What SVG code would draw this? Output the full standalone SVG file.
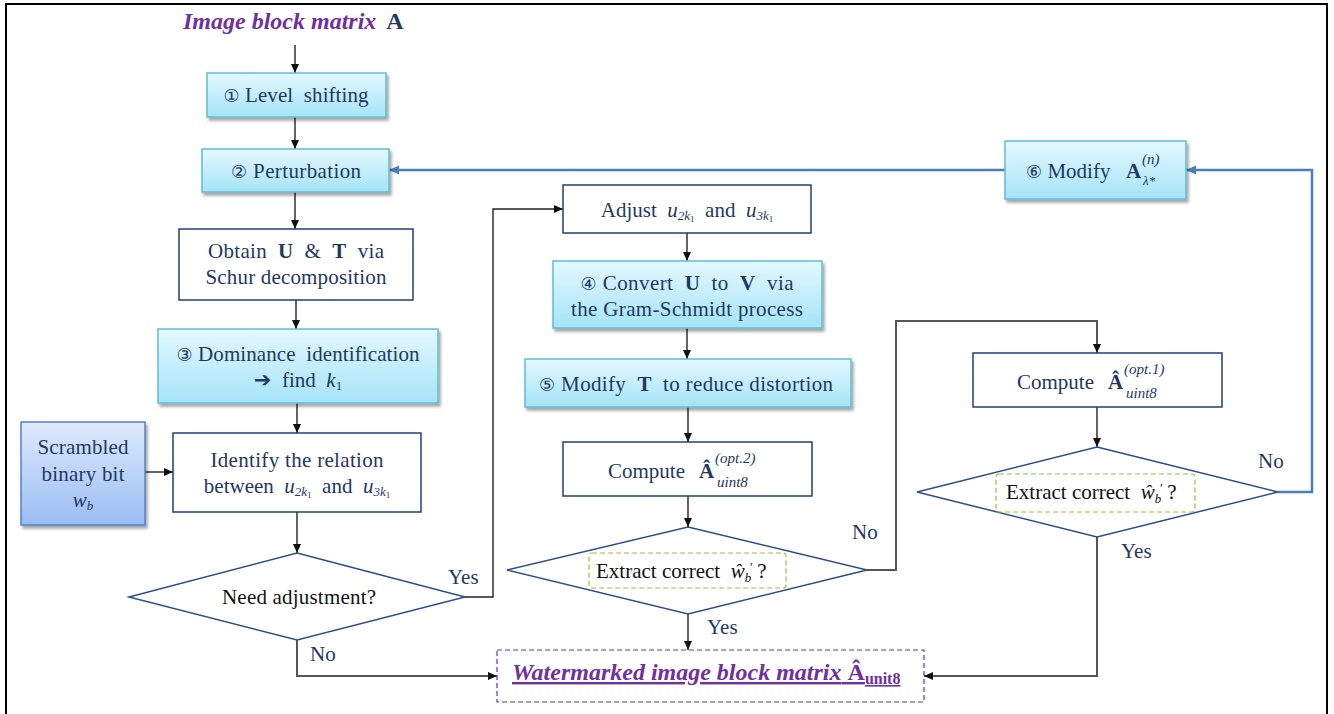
<svg xmlns="http://www.w3.org/2000/svg" width="1334" height="714" viewBox="0 0 1334 714">
<defs>
<linearGradient id="gBlue" x1="0" y1="0" x2="0" y2="1"><stop offset="0" stop-color="#e4f8fe"/><stop offset="1" stop-color="#a4e4f7"/></linearGradient>
<linearGradient id="gScr" x1="0" y1="0" x2="0" y2="1"><stop offset="0" stop-color="#dfeafc"/><stop offset="1" stop-color="#98bdf3"/></linearGradient>
<filter id="sh" x="-10%" y="-10%" width="125%" height="135%"><feDropShadow dx="2" dy="3" stdDeviation="1.5" flood-color="#000" flood-opacity="0.35"/></filter>
<marker id="ah" markerWidth="10" markerHeight="10" refX="9" refY="5" orient="auto" markerUnits="userSpaceOnUse"><path d="M0,1 L9,5 L0,9 Z" fill="#111"/></marker>
<marker id="ahb" markerWidth="12" markerHeight="12" refX="10" refY="6" orient="auto" markerUnits="userSpaceOnUse"><path d="M0,1.5 L10,6 L0,10.5 Z" fill="#4a7ebb"/></marker>
<style>
.t{font-family:"Liberation Serif","Times New Roman",serif;font-size:21px;fill:#1f3864}
.k{fill:#111}
.m{font-style:italic}
.b{font-weight:bold}
.c{font-family:"DejaVu Sans",sans-serif;font-size:18px}
.sub{font-size:13px}
.ss{font-size:15px}
.lb{fill:url(#gBlue);stroke:#62bcd4;stroke-width:1.5;filter:url(#sh)}
.wb{fill:#fff;stroke:#203f7a;stroke-width:1.5}
.dm{fill:#fff;stroke:#2c4f8c;stroke-width:1.5}
.gd{fill:none;stroke:#8cc63f;stroke-width:1.2;stroke-dasharray:5,3}
.ln{fill:none;stroke:#222;stroke-width:1.4}
.gl{fill:none;stroke:#555;stroke-width:2}
.bl{fill:none;stroke:#4a7ebb;stroke-width:2.5}
</style>
</defs>
<rect x="6" y="4" width="1321" height="730" fill="none" stroke="#000" stroke-width="2"/>

<g id="connectors">
<path class="ln" d="M295,45 V73" marker-end="url(#ah)"/>
<path class="ln" d="M295,117 V149" marker-end="url(#ah)"/>
<path class="ln" d="M295,192 V229" marker-end="url(#ah)"/>
<path class="ln" d="M296,300 V329" marker-end="url(#ah)"/>
<path class="ln" d="M297,403 V433" marker-end="url(#ah)"/>
<path class="ln" d="M145,472 H173" marker-end="url(#ah)"/>
<path class="ln" d="M297,512 V553" marker-end="url(#ah)"/>
<path class="ln" d="M465,597 H493 V209 H563" marker-end="url(#ah)"/>
<path class="gl" d="M297,640 V676 H497" marker-end="url(#ah)"/>
<path class="ln" d="M687,233 V261" marker-end="url(#ah)"/>
<path class="ln" d="M687,328 V359" marker-end="url(#ah)"/>
<path class="ln" d="M688,407 V442" marker-end="url(#ah)"/>
<path class="ln" d="M688,496 V527" marker-end="url(#ah)"/>
<path class="ln" d="M688,614 V650" marker-end="url(#ah)"/>
<path class="gl" d="M867,570 H896 V321 H1097 V353" marker-end="url(#ah)"/>
<path class="ln" d="M1097,407 V447" marker-end="url(#ah)"/>
<path class="gl" d="M1097,537 V676 H924" marker-end="url(#ah)"/>
<path class="bl" d="M1278,492 H1312 V170 H1186" marker-end="url(#ahb)"/>
<path class="bl" d="M1005,170 H389" marker-end="url(#ahb)"/>
<text class="t" x="448" y="584">Yes</text>
<text class="t" x="310" y="661">No</text>
<text class="t" x="852" y="539">No</text>
<text class="t" x="707" y="634">Yes</text>
<text class="t" x="1258" y="468">No</text>
<text class="t" x="1121" y="558">Yes</text>
</g>

<g id="title">
<text class="t" x="183" y="29" style="font-size:24px"><tspan class="m b" fill="#7030a0">Image block matrix</tspan><tspan class="b" dx="10">A</tspan></text>
</g>

<g id="level">
<rect class="lb" x="207" y="73" width="179" height="44"/>
<text class="t" x="296" y="102" text-anchor="middle" textLength="145" xml:space="preserve"><tspan class="c">①</tspan> Level  shifting</text>
</g>

<g id="perturbation">
<rect class="lb" x="202" y="149" width="187" height="43"/>
<text class="t" x="296" y="178" text-anchor="middle" textLength="130"><tspan class="c">②</tspan> Perturbation</text>
</g>

<g id="obtain">
<rect class="wb" x="179" y="229" width="234" height="71"/>
<text class="t" x="296" y="258" text-anchor="middle" textLength="176" xml:space="preserve">Obtain  <tspan class="b">U</tspan>  &amp;  <tspan class="b">T</tspan>  via</text>
<text class="t" x="296" y="284" text-anchor="middle" textLength="181">Schur decomposition</text>
</g>

<g id="dominance">
<rect class="lb" x="158" y="329" width="280" height="74"/>
<text class="t" x="298" y="361" text-anchor="middle" textLength="243" xml:space="preserve"><tspan class="c">③</tspan> Dominance  identification</text>
<text class="t" x="298" y="387" text-anchor="middle" xml:space="preserve"><tspan class="b" font-family="DejaVu Sans">➔</tspan>  find  <tspan class="m">k</tspan><tspan class="sub" dy="3">1</tspan></text>
</g>

<g id="scrambled">
<rect x="21" y="422" width="124" height="103" fill="url(#gScr)" stroke="#4f82c8" stroke-width="1.5" filter="url(#sh)"/>
<text class="t" x="83" y="454" text-anchor="middle" textLength="91">Scrambled</text>
<text class="t" x="83" y="481" text-anchor="middle" textLength="83">binary bit</text>
<text class="t" x="83" y="507" text-anchor="middle"><tspan class="m">w</tspan><tspan class="sub m" dy="3">b</tspan></text>
</g>

<g id="identify">
<rect class="wb" x="173" y="433" width="248" height="79"/>
<text class="t" x="297" y="467" text-anchor="middle" textLength="173">Identify the relation</text>
<text class="t" x="297" y="493" text-anchor="middle" xml:space="preserve">between  <tspan class="m">u</tspan><tspan class="sub m" dy="3">2k</tspan><tspan font-size="9" dy="2">1</tspan><tspan dy="-5">  and  </tspan><tspan class="m">u</tspan><tspan class="sub m" dy="3">3k</tspan><tspan font-size="9" dy="2">1</tspan></text>
</g>

<g id="need">
<polygon class="dm" points="297,553 465,597 297,640 129,597"/>
<text class="t k" x="299" y="604" text-anchor="middle" textLength="154">Need adjustment?</text>
</g>

<g id="adjust">
<rect class="wb" x="563" y="185" width="248" height="48"/>
<text class="t" x="687" y="217" text-anchor="middle" xml:space="preserve">Adjust  <tspan class="m">u</tspan><tspan class="sub m" dy="3">2k</tspan><tspan font-size="9" dy="2">1</tspan><tspan dy="-5">  and  </tspan><tspan class="m">u</tspan><tspan class="sub m" dy="3">3k</tspan><tspan font-size="9" dy="2">1</tspan></text>
</g>

<g id="convert">
<rect class="lb" x="553" y="261" width="269" height="67"/>
<text class="t" x="687" y="290" text-anchor="middle" textLength="213" xml:space="preserve"><tspan class="c">④</tspan> Convert  <tspan class="b">U</tspan>  to  <tspan class="b">V</tspan>  via</text>
<text class="t" x="687" y="316" text-anchor="middle" textLength="232">the Gram-Schmidt process</text>
</g>

<g id="modifyT">
<rect class="lb" x="525" y="359" width="326" height="48"/>
<text class="t" x="686" y="391" text-anchor="middle" textLength="294" xml:space="preserve"><tspan class="c">⑤</tspan> Modify  <tspan class="b">T</tspan>  to reduce distortion</text>
</g>

<g id="compute2">
<rect class="wb" x="563" y="442" width="249" height="54"/>
<text class="t" x="608" y="478">Compute</text>
<text class="t b" x="699" y="478">Â</text>
<text class="t m ss" x="715" y="463">(opt.2)</text>
<text class="t m ss" x="717" y="487">uint8</text>
</g>

<g id="extract2">
<polygon class="dm" points="688,527 867,570 688,614 507,570"/>
<rect class="gd" x="589" y="553" width="197" height="35" rx="3"/>
<text class="t k" x="596" y="578" xml:space="preserve">Extract correct  <tspan class="m">ŵ</tspan><tspan class="sub m" dy="4">b</tspan><tspan class="sub m" dx="-2" dy="-11">′</tspan><tspan dy="7"> ?</tspan></text>
</g>

<g id="watermarked">
<rect x="497" y="650" width="427" height="52" fill="#fff" stroke="#7030a0" stroke-width="1.2" stroke-dasharray="5,3"/>
<text class="t b" x="512" y="680" style="font-size:24px;fill:#7030a0" text-decoration="underline"><tspan class="m">Watermarked image block matrix</tspan>  Â<tspan font-size="16" dy="4">unit8</tspan></text>
</g>

<g id="modifyA">
<rect class="lb" x="1005" y="141" width="181" height="58"/>
<text class="t" x="1026" y="178"><tspan class="c">⑥</tspan> Modify</text>
<text class="t b" x="1126" y="178">A</text>
<text class="t m ss" x="1142" y="164">(n)</text>
<text class="t m sub" x="1143" y="185">λ*</text>
</g>

<g id="compute1">
<rect class="wb" x="973" y="353" width="249" height="54"/>
<text class="t" x="1017" y="389">Compute</text>
<text class="t b" x="1108" y="389">Â</text>
<text class="t m ss" x="1124" y="374">(opt.1)</text>
<text class="t m ss" x="1126" y="398">uint8</text>
</g>

<g id="extract1">
<polygon class="dm" points="1097,447 1278,492 1097,537 917,492"/>
<rect class="gd" x="996" y="474" width="199" height="38" rx="3"/>
<text class="t k" x="1006" y="499" xml:space="preserve">Extract correct  <tspan class="m">ŵ</tspan><tspan class="sub m" dy="4">b</tspan><tspan class="sub m" dx="-2" dy="-11">′</tspan><tspan dy="7"> ?</tspan></text>
</g>
</svg>
